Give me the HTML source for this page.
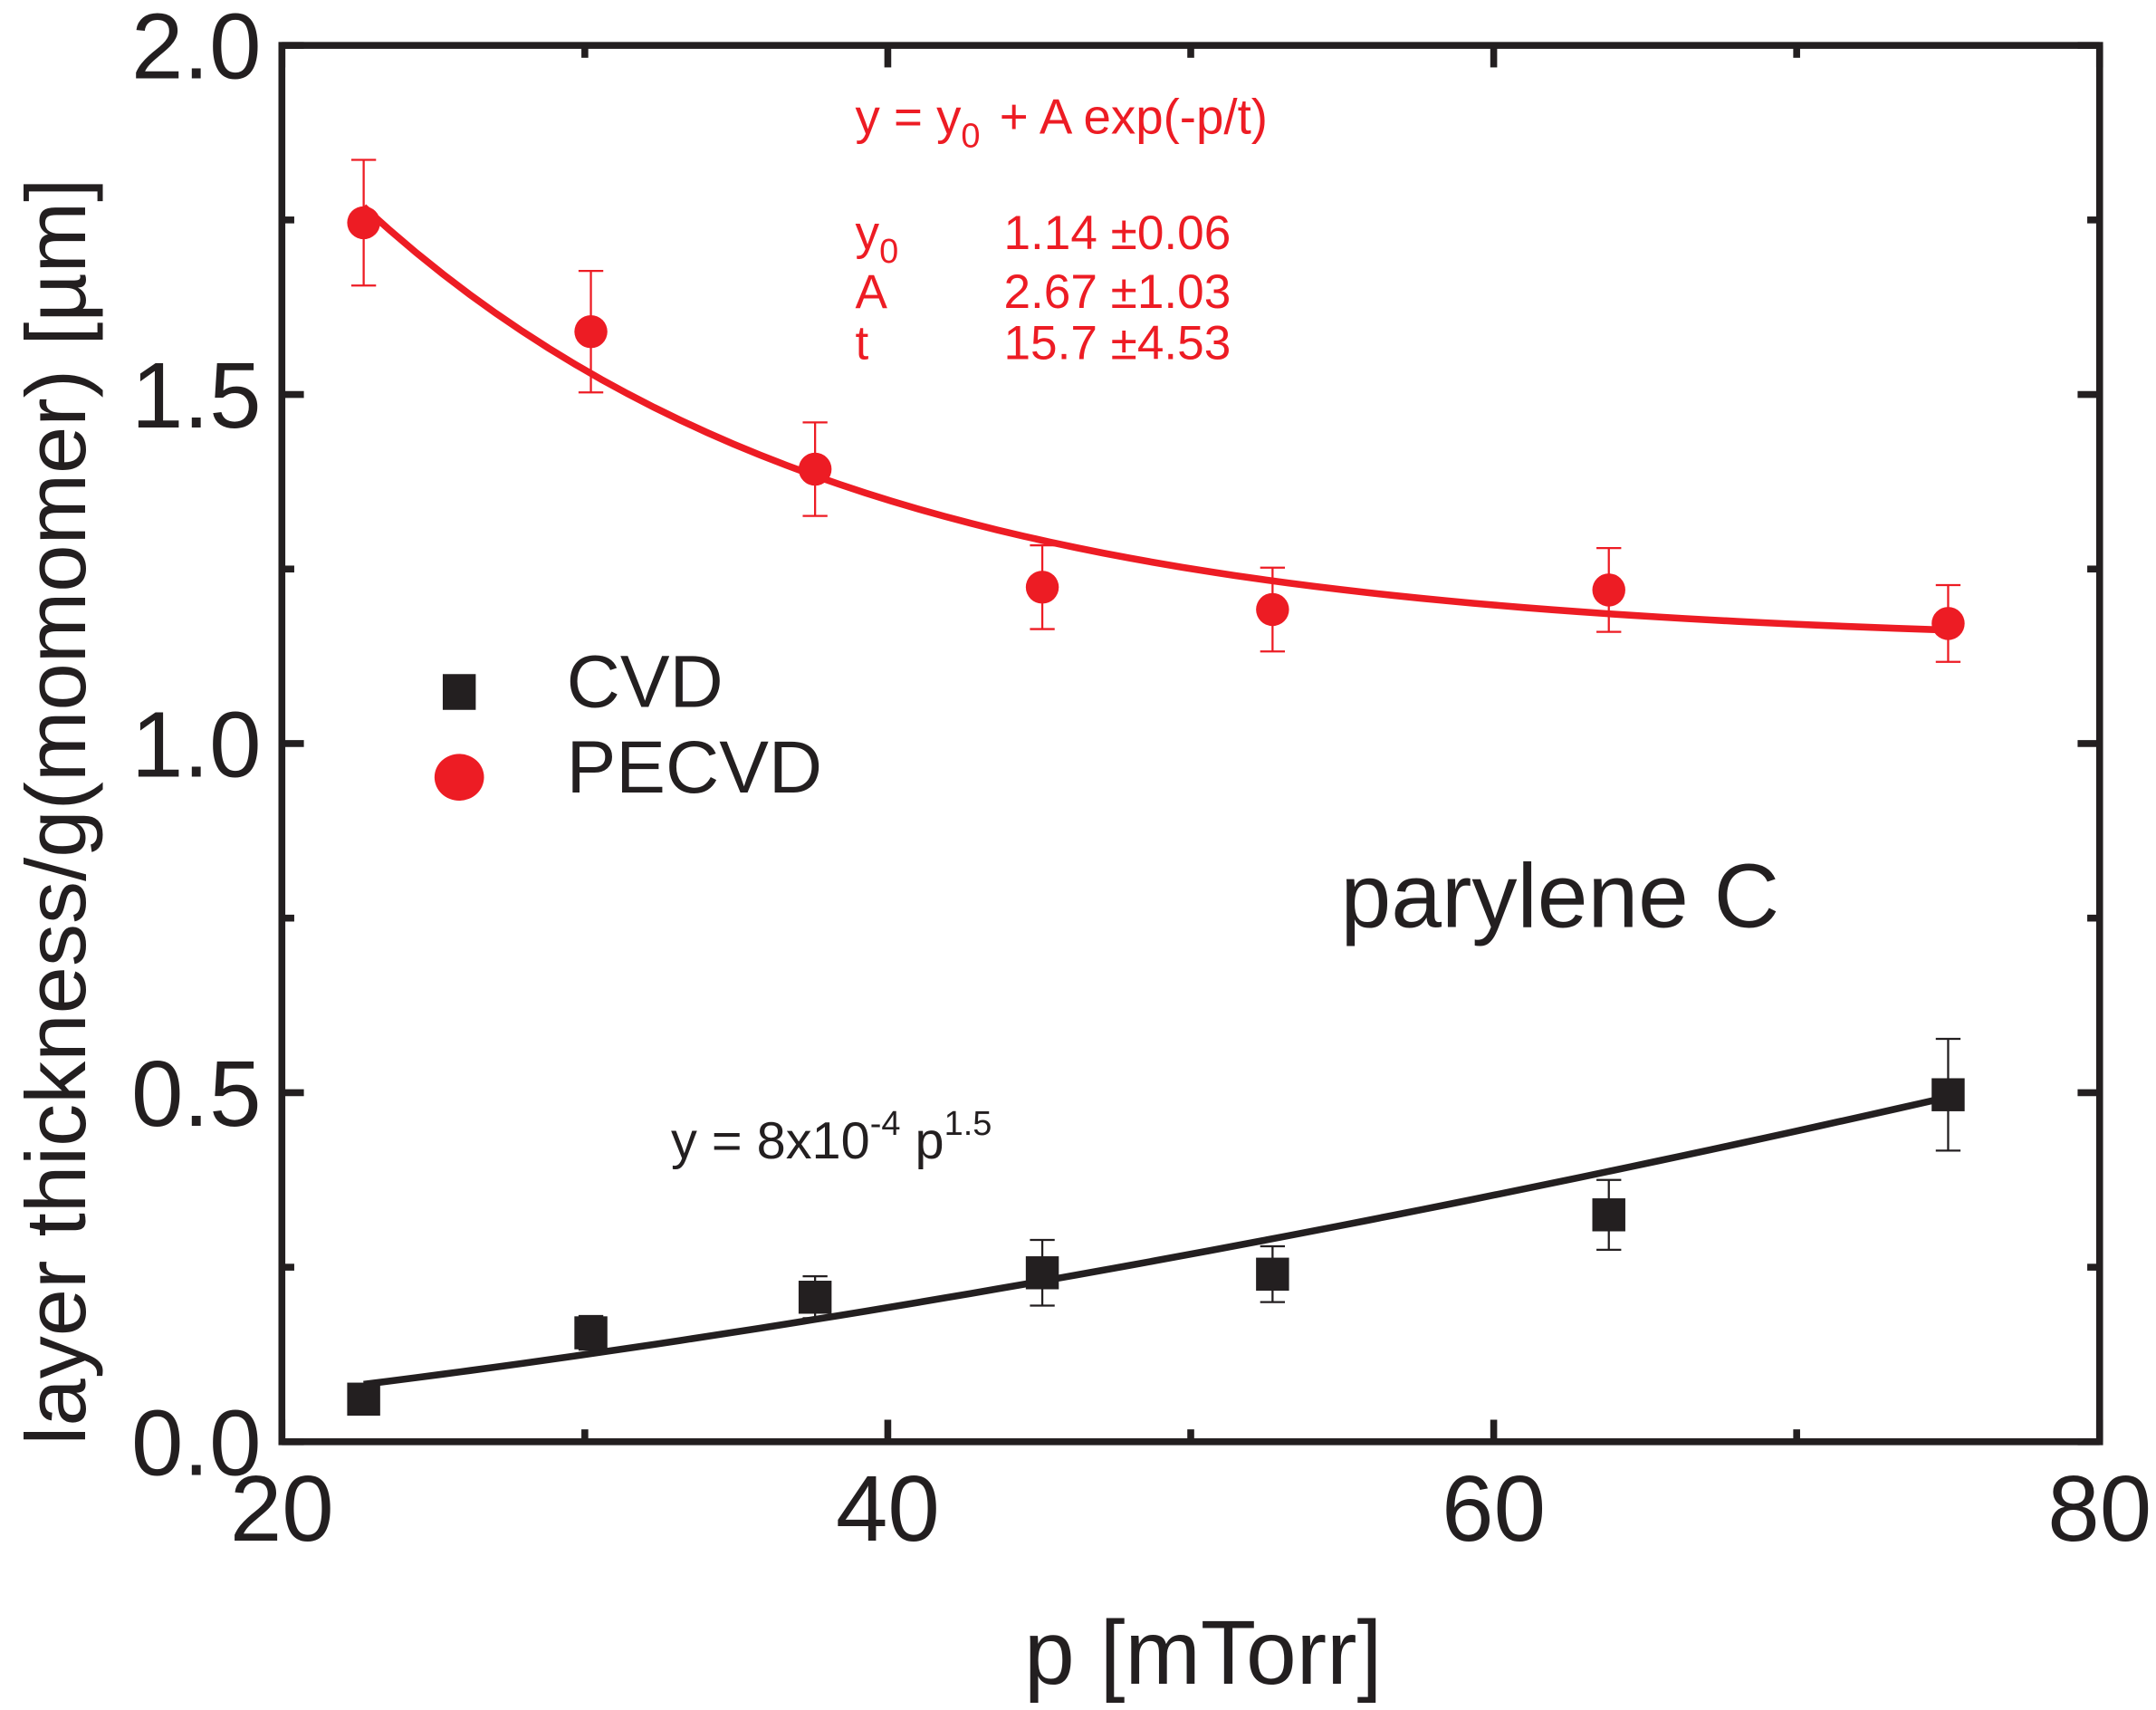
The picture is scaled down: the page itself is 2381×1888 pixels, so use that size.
<!DOCTYPE html>
<html><head><meta charset="utf-8"><style>
html,body{margin:0;padding:0;background:#fff}
svg{display:block}
text{font-family:"Liberation Sans",Arial,sans-serif}
</style></head><body>
<svg id="chart" width="2381" height="1888" viewBox="0 0 1568 1243" preserveAspectRatio="none" xmlns="http://www.w3.org/2000/svg">
<rect x="0" y="0" width="1568" height="1243" fill="#fff"/>
<g id="grid"></g>
<g id="marks"></g>
<rect x="205" y="33" width="1322" height="1015" fill="none" stroke="#231f20" stroke-width="5"/>
<g fill="#ed1c24" font-size="35">
<text x="622" y="97" font-size="36">y = y<tspan font-size="25" dy="10">0</tspan><tspan dy="-10" dx="14">+ A exp(-p/t)</tspan></text>
<text x="622" y="181">y<tspan font-size="25" dy="10">0</tspan></text>
<text x="730" y="181">1.14 ±0.06</text>
<text x="622" y="224">A</text>
<text x="730" y="224">2.67 ±1.03</text>
<text x="622" y="261">t</text>
<text x="730" y="261">15.7 ±4.53</text>
</g>
<text x="488" y="842" font-size="38" fill="#231f20">y = 8x10<tspan font-size="25" dy="-17">-4</tspan><tspan dy="17"> p</tspan><tspan font-size="25" dy="-17">1.5</tspan></text>
<text x="975" y="674" font-size="66" fill="#231f20">parylene C</text>
<g>
<rect x="322" y="490" width="24" height="26" fill="#231f20"/>
<text x="412" y="514" font-size="54" fill="#231f20">CVD</text>
<ellipse cx="334" cy="565" rx="18" ry="17" fill="#ed1c24"/>
<text x="412" y="576" font-size="54" fill="#231f20">PECVD</text>
</g>
<text x="875" y="1224" font-size="66" text-anchor="middle" fill="#231f20">p [mTorr]</text>
<text transform="translate(62,590) rotate(-90)" font-size="62" text-anchor="middle" fill="#231f20">layer thickness/g(momomer) [µm]</text>
</svg>
<script>
const xTicks=[20,40,60,80];
const xMinor=[30,50,70];
const yTicks=[0.0,0.5,1.0,1.5,2.0];
const yMinor=[0.25,0.75,1.25,1.75];
const pressures=[22.7,30.2,37.6,45.1,52.7,63.8,75.0];
const pecvd=[1.746,1.59,1.393,1.224,1.192,1.22,1.172];
const pecvdErr=[0.09,0.087,0.067,0.06,0.06,0.06,0.055];
const cvd=[0.061,0.156,0.207,0.242,0.24,0.325,0.497];
const cvdErr=[0.01,0.024,0.03,0.047,0.04,0.05,0.08];
const fitY0=1.14, fitA=2.67, fitT=15.7;
const cvdCoef=7.6e-4, cvdPow=1.5;
const NS="http://www.w3.org/2000/svg";
const L=205,R=1527,T=33,B=1048;
const sx=v=>L+(v-20)/60*(R-L);
const sy=v=>B-v/2*(B-T);
const grid=document.getElementById('grid'),marks=document.getElementById('marks');
function mk(tag,attrs,parent){const e=document.createElementNS(NS,tag);for(const k in attrs)e.setAttribute(k,attrs[k]);parent.appendChild(e);return e;}
xTicks.forEach(v=>{
 const t=mk('line',{x1:sx(v),x2:sx(v),y1:B,y2:B-16,stroke:'#231f20','stroke-width':5},grid);
 
 
 const t2=mk('line',{x1:sx(v),x2:sx(v),y1:T,y2:T+16,stroke:'#231f20','stroke-width':5},grid);
 
 
 const l=mk('text',{x:sx(v),y:1120,'font-size':68,'text-anchor':'middle',fill:'#231f20'},grid);
 l.textContent=v;
 
 
});
xMinor.forEach(v=>{
 const t=mk('line',{x1:sx(v),x2:sx(v),y1:B,y2:B-9,stroke:'#231f20','stroke-width':5},grid);
 
 
 const t2=mk('line',{x1:sx(v),x2:sx(v),y1:T,y2:T+9,stroke:'#231f20','stroke-width':5},grid);
 
 
});
yTicks.forEach(v=>{
 const t=mk('line',{x1:L,x2:L+16,y1:sy(v),y2:sy(v),stroke:'#231f20','stroke-width':5},grid);
 
 
 const t2=mk('line',{x1:R,x2:R-16,y1:sy(v),y2:sy(v),stroke:'#231f20','stroke-width':5},grid);
 
 
 const l=mk('text',{x:190,y:sy(v)+24,'font-size':68,'text-anchor':'end',fill:'#231f20'},grid);
 l.textContent=v.toFixed(1);
 
 
});
yMinor.forEach(v=>{
 const t=mk('line',{x1:L,x2:L+9,y1:sy(v),y2:sy(v),stroke:'#231f20','stroke-width':5},grid);
 
 
 const t2=mk('line',{x1:R,x2:R-9,y1:sy(v),y2:sy(v),stroke:'#231f20','stroke-width':5},grid);
 
 
});
let pr='',pb='';
for(let i=0;i<=60;i++){const p=pressures[0]+(pressures[pressures.length-1]-pressures[0])*i/60;
 pr+=(i?'L':'M')+sx(p)+','+sy(fitY0+fitA*Math.exp(-p/fitT));
 pb+=(i?'L':'M')+sx(p)+','+sy(cvdCoef*Math.pow(p,cvdPow));}
const fr=mk('path',{d:pr,fill:'none',stroke:'#ed1c24','stroke-width':5},marks);


const fb=mk('path',{d:pb,fill:'none',stroke:'#231f20','stroke-width':5},marks);


function errbar(x,y,e,col,name){
 const g=mk('g',{stroke:col,'stroke-width':1.5},marks);
 
 
 mk('line',{x1:sx(x),x2:sx(x),y1:sy(y+e),y2:sy(y-e)},g);
 mk('line',{x1:sx(x)-9,x2:sx(x)+9,y1:sy(y+e),y2:sy(y+e)},g);
 mk('line',{x1:sx(x)-9,x2:sx(x)+9,y1:sy(y-e),y2:sy(y-e)},g);
}
pressures.forEach((p,i)=>{
 errbar(p,pecvd[i],pecvdErr[i],'#ed1c24','pecvd-error-bar');
 const c=mk('ellipse',{cx:sx(p),cy:sy(pecvd[i]),rx:12,ry:12,fill:'#ed1c24'},marks);
 
 
 errbar(p,cvd[i],cvdErr[i],'#231f20','cvd-error-bar');
 const r=mk('rect',{x:sx(p)-12,y:sy(cvd[i])-12,width:24,height:24,fill:'#231f20'},marks);
 
 
});
</script>
</body></html>
